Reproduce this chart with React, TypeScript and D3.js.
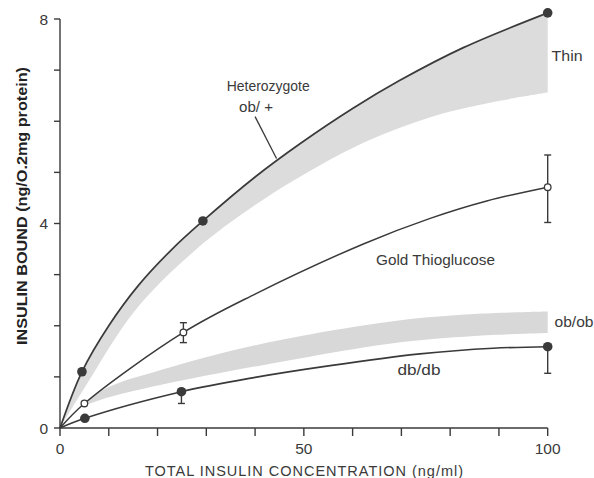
import React from 'react';
import * as d3 from 'd3';

// ---- data ----
const xTicks = [0, 10, 20, 30, 40, 50, 60, 70, 80, 90, 100];
const xTickLabels = [0, 50, 100];
const yTicks = [0, 1, 2, 3, 4, 5, 6, 7, 8];
const yTickLabels = [0, 4, 8];

// Heterozygote ob/+ curve (upper edge of "Thin" band)
const hetX = [0, 4.5, 10, 16, 23, 29.3, 40, 49.2, 60, 69.7, 82.7, 100];
const hetY = [0, 1.1, 2.0, 2.78, 3.5, 4.05, 4.91, 5.56, 6.25, 6.8, 7.44, 8.12];
// lower edge of "Thin" band
const thinLowX = [0, 5, 15.4, 28, 40, 50, 62.9, 76.6, 90.2, 100];
const thinLowY = [0, 0.78, 2.3, 3.5, 4.36, 4.96, 5.61, 6.1, 6.4, 6.56];

// Gold Thioglucose curve
const gtgX = [0, 5, 25.3, 40, 62.2, 75.9, 87.5, 100];
const gtgY = [0, 0.48, 1.87, 2.62, 3.6, 4.1, 4.44, 4.71];

// db/db curve
const dbX = [0, 5.1, 24.9, 40, 55.4, 73.8, 88.8, 100];
const dbY = [0, 0.19, 0.71, 0.99, 1.22, 1.45, 1.56, 1.59];

// ob/ob band
const obX = [4.5, 10, 20.5, 41, 68.3, 85, 100];
const obTop = [0.45, 0.8, 1.13, 1.64, 2.09, 2.23, 2.28];
const obBottom = [0.42, 0.6, 0.84, 1.22, 1.66, 1.8, 1.86];

// measured points
const hetPtsX = [4.5, 29.3, 100];
const hetPtsY = [1.1, 4.05, 8.12];
const gtgPtsX = [5, 25.3, 100];
const gtgPtsY = [0.48, 1.87, 4.71];
const gtgErrLo = [null, 1.67, 4.02];
const gtgErrHi = [null, 2.06, 5.34];
const dbPtsX = [5.1, 24.9, 100];
const dbPtsY = [0.19, 0.71, 1.59];
const dbErrLo = [null, 0.48, 1.07];

// text annotations (data coordinates)
const labelTexts = ['Heterozygote', 'ob/ +', 'Thin', 'Gold Thioglucose', 'ob/ob', 'db/db'];
const labelX = [42.7, 40.2, 100.8, 64.8, 101.4, 69.2];
const labelY = [6.6, 6.19, 7.17, 3.19, 1.98, 1.04];
const labelAnchor = ['middle', 'middle', 'start', 'start', 'start', 'start'];
const labelLen = [83, 34, 31, 119, 39, 43];
const leaderX = [40.0, 44.4];
const leaderY = [6.09, 5.27];

const W = 594;
const H = 478;
const INK = '#3a3a3a';
const FONT = "'Liberation Sans', Arial, Helvetica, sans-serif";

export default function App() {
  const x = d3.scaleLinear().domain([0, 100]).range([60, 547.7]);
  const y = d3.scaleLinear().domain([0, 8]).range([428, 19]);

  const zip = (xs: number[], ys: number[]) => xs.map((v, i) => [v, ys[i]] as [number, number]);
  const curve = d3.curveCatmullRom.alpha(0.5);
  const line = d3
    .line<[number, number]>()
    .x((d) => x(d[0]))
    .y((d) => y(d[1]))
    .curve(curve);

  const hetPts = zip(hetX, hetY);
  const thinLow = zip(thinLowX, thinLowY);
  const thinBand =
    (line(hetPts) as string) + 'L' + (line(thinLow.slice().reverse()) as string).slice(1) + 'Z';

  const obArea = d3
    .area<number>()
    .x((_, i) => x(obX[i]))
    .y0((_, i) => y(obBottom[i]))
    .y1((_, i) => y(obTop[i]))
    .curve(curve);

  const errCap = 3.5;

  return (
    <svg
      width={W}
      height={H}
      style={{ position: 'absolute', left: 0, top: 0, background: '#fff' }}
      fontFamily={FONT}
    >
      <rect width={W} height={H} fill="#fff" />
      {/* bands */}
      <path d={thinBand} fill="#dcdcdc" stroke="none" />
      <path d={obArea(obX) as string} fill="#d8d8d8" stroke="none" />

      {/* curves */}
      <path d={line(hetPts) as string} fill="none" stroke={INK} strokeWidth={1.7} />
      <path d={line(zip(gtgX, gtgY)) as string} fill="none" stroke={INK} strokeWidth={1.5} />
      <path d={line(zip(dbX, dbY)) as string} fill="none" stroke={INK} strokeWidth={1.6} />

      {/* error bars */}
      {gtgPtsX.map((v, i) =>
        gtgErrLo[i] == null ? null : (
          <g key={'ge' + i} stroke={INK} strokeWidth={1.4}>
            <line x1={x(v)} x2={x(v)} y1={y(gtgErrLo[i] as number)} y2={y(gtgErrHi[i] as number)} />
            <line x1={x(v) - errCap} x2={x(v) + errCap} y1={y(gtgErrLo[i] as number)} y2={y(gtgErrLo[i] as number)} />
            <line x1={x(v) - errCap} x2={x(v) + errCap} y1={y(gtgErrHi[i] as number)} y2={y(gtgErrHi[i] as number)} />
          </g>
        )
      )}
      {dbPtsX.map((v, i) =>
        dbErrLo[i] == null ? null : (
          <g key={'de' + i} stroke={INK} strokeWidth={1.4}>
            <line x1={x(v)} x2={x(v)} y1={y(dbPtsY[i])} y2={y(dbErrLo[i] as number)} />
            <line x1={x(v) - errCap} x2={x(v) + errCap} y1={y(dbErrLo[i] as number)} y2={y(dbErrLo[i] as number)} />
          </g>
        )
      )}

      {/* markers */}
      {hetPtsX.map((v, i) => (
        <circle key={'hp' + i} cx={x(v)} cy={y(hetPtsY[i])} r={4.8} fill={INK} />
      ))}
      {dbPtsX.map((v, i) => (
        <circle key={'dp' + i} cx={x(v)} cy={y(dbPtsY[i])} r={4.8} fill={INK} />
      ))}
      {gtgPtsX.map((v, i) => (
        <circle key={'gp' + i} cx={x(v)} cy={y(gtgPtsY[i])} r={3.3} fill="#fff" stroke={INK} strokeWidth={1.3} />
      ))}

      {/* axes */}
      <g stroke={INK} strokeWidth={1.4}>
        <line x1={x(0)} x2={x(0)} y1={y(0)} y2={y(8)} />
        <line x1={x(0)} x2={x(100)} y1={y(0)} y2={y(0)} />
        {yTicks.map((t) => (
          <line key={'yt' + t} x1={x(0) - 6} x2={x(0)} y1={y(t)} y2={y(t)} />
        ))}
        {xTicks.map((t) => (
          <line key={'xt' + t} x1={x(t)} x2={x(t)} y1={y(0)} y2={y(0) + 8} />
        ))}
      </g>
      {yTickLabels.map((t) => (
        <text key={'yl' + t} x={x(0) - 12} y={y(t)} dy="0.36em" textAnchor="end" fontSize={15.5} fill={INK}>
          {t}
        </text>
      ))}
      {xTickLabels.map((t) => (
        <text key={'xl' + t} x={x(t)} y={454} textAnchor="middle" fontSize={15.5} fill={INK}>
          {t}
        </text>
      ))}

      {/* axis titles */}
      <text x={304} y={476} textAnchor="middle" fontSize={14.5} fill={INK} textLength={318} lengthAdjust="spacing">
        TOTAL INSULIN CONCENTRATION (ng/ml)
      </text>
      <text
        transform="translate(26.5,206) rotate(-90)"
        textAnchor="middle"
        fontSize={15}
        fontWeight="bold"
        fill="#222"
        textLength={278}
        lengthAdjust="spacingAndGlyphs"
      >
        INSULIN BOUND (ng/O.2mg protein)
      </text>

      {/* annotations */}
      {labelTexts.map((s, i) => (
        <text
          key={'lab' + i}
          x={x(labelX[i])}
          y={y(labelY[i])}
          textAnchor={labelAnchor[i]}
          fontSize={14.5}
          fill={INK}
          textLength={labelLen[i]}
          lengthAdjust="spacingAndGlyphs"
        >
          {s}
        </text>
      ))}
      <line
        x1={x(leaderX[0])}
        y1={y(leaderY[0])}
        x2={x(leaderX[1])}
        y2={y(leaderY[1])}
        stroke={INK}
        strokeWidth={1.3}
      />
    </svg>
  );
}
